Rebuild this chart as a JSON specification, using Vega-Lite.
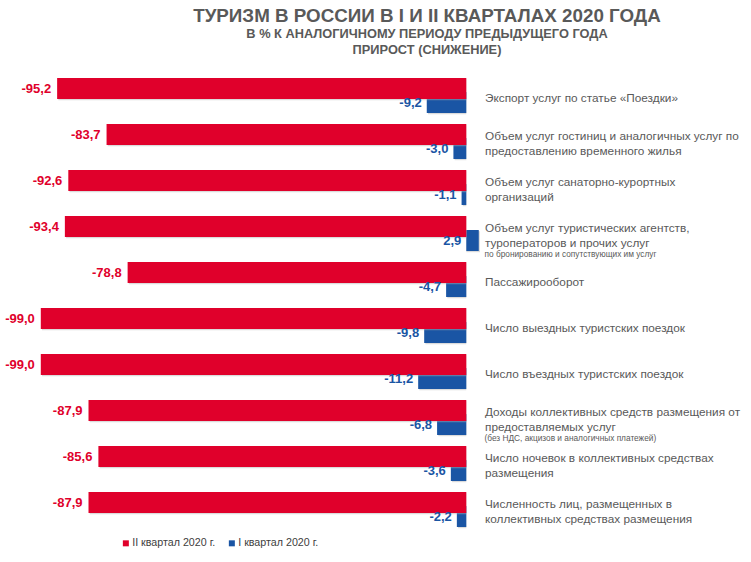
{
  "$schema": "https://vega.github.io/schema/vega-lite/v6.json",
  "width": 447,
  "height": 460,
  "autosize": "none",
  "padding": {"left": 36.5, "top": 72.5, "right": 267.5, "bottom": 29.5},
  "background": "white",
  "config": {
    "view": {"stroke": null},
    "font": "Liberation Sans",
    "locale": {"number": {"decimal": ",", "thousands": " ", "grouping": [3], "currency": ["", ""], "minus": "-"}}
  },
  "title": {
    "text": "ТУРИЗМ В РОССИИ В I И II КВАРТАЛАХ 2020 ГОДА",
    "subtitle": ["В % К  АНАЛОГИЧНОМУ ПЕРИОДУ ПРЕДЫДУЩЕГО ГОДА", "ПРИРОСТ (СНИЖЕНИЕ)"],
    "anchor": "middle",
    "dx": 167,
    "font": "Liberation Sans",
    "fontSize": 18.8,
    "fontWeight": "bold",
    "color": "#595959",
    "subtitleFont": "Liberation Sans",
    "subtitleFontSize": 12.8,
    "subtitleFontWeight": "bold",
    "subtitleColor": "#595959",
    "subtitlePadding": 2,
    "subtitleLineHeight": 16,
    "offset": 16
  },
  "data": {
    "values": [
      {"cat": "Экспорт услуг по статье «Поездки»", "series": "II квартал 2020 г.", "value": -95.2},
      {"cat": "Экспорт услуг по статье «Поездки»", "series": "I квартал 2020 г.", "value": -9.2},
      {"cat": "Объем услуг гостиниц и аналогичных услуг по\nпредоставлению временного жилья", "series": "II квартал 2020 г.", "value": -83.7},
      {"cat": "Объем услуг гостиниц и аналогичных услуг по\nпредоставлению временного жилья", "series": "I квартал 2020 г.", "value": -3.0},
      {"cat": "Объем услуг санаторно-курортных\nорганизаций", "series": "II квартал 2020 г.", "value": -92.6},
      {"cat": "Объем услуг санаторно-курортных\nорганизаций", "series": "I квартал 2020 г.", "value": -1.1},
      {"cat": "Объем услуг туристических агентств,\nтуроператоров и прочих услуг", "series": "II квартал 2020 г.", "value": -93.4, "note": "по бронированию и сопутствующих им услуг"},
      {"cat": "Объем услуг туристических агентств,\nтуроператоров и прочих услуг", "series": "I квартал 2020 г.", "value": 2.9},
      {"cat": "Пассажирооборот", "series": "II квартал 2020 г.", "value": -78.8},
      {"cat": "Пассажирооборот", "series": "I квартал 2020 г.", "value": -4.7},
      {"cat": "Число выездных туристских поездок", "series": "II квартал 2020 г.", "value": -99.0},
      {"cat": "Число выездных туристских поездок", "series": "I квартал 2020 г.", "value": -9.8},
      {"cat": "Число въездных туристских поездок", "series": "II квартал 2020 г.", "value": -99.0},
      {"cat": "Число въездных туристских поездок", "series": "I квартал 2020 г.", "value": -11.2},
      {"cat": "Доходы коллективных средств размещения от\nпредоставляемых услуг", "series": "II квартал 2020 г.", "value": -87.9, "note": "(без НДС, акцизов и аналогичных платежей)"},
      {"cat": "Доходы коллективных средств размещения от\nпредоставляемых услуг", "series": "I квартал 2020 г.", "value": -6.8},
      {"cat": "Число ночевок в коллективных средствах\nразмещения", "series": "II квартал 2020 г.", "value": -85.6},
      {"cat": "Число ночевок в коллективных средствах\nразмещения", "series": "I квартал 2020 г.", "value": -3.6},
      {"cat": "Численность лиц, размещенных  в\nколлективных средствах размещения", "series": "II квартал 2020 г.", "value": -87.9},
      {"cat": "Численность лиц, размещенных  в\nколлективных средствах размещения", "series": "I квартал 2020 г.", "value": -2.2}
    ]
  },
  "encoding": {
    "y": {
      "field": "cat",
      "type": "nominal",
      "sort": null,
      "scale": {"paddingInner": 0, "paddingOuter": 0},
      "axis": {
        "orient": "right",
        "title": null,
        "domain": false,
        "ticks": false,
        "grid": false,
        "labelAlign": "left",
        "labelPadding": 1,
        "labelFont": "Liberation Sans",
        "labelFontSize": 11.8,
        "labelColor": "#595959",
        "labelLimit": 0,
        "labelLineHeight": 15,
        "labelOffset": {"condition": {"test": "indexof(datum.value, '\\n') >= 0", "value": -6}, "value": 2},
        "labelExpr": "split(datum.value, '\\n')"
      }
    }
  },
  "layer": [
    {
      "transform": [{"filter": "datum.series == 'I квартал 2020 г.'"}],
      "mark": {"type": "bar", "height": 21, "yOffset": 8.2, "xOffset": 1.2, "color": "#b0b0b0", "opacity": 0.45},
      "encoding": {
        "x": {"field": "value", "type": "quantitative", "scale": {"domain": [-100, 4], "nice": false, "zero": false}, "axis": null},
        "x2": {"datum": 0}
      }
    },
    {
      "transform": [{"filter": "datum.series == 'I квартал 2020 г.'"}],
      "mark": {"type": "bar", "height": 21, "yOffset": 7},
      "encoding": {
        "x": {"field": "value", "type": "quantitative"},
        "x2": {"datum": 0},
        "color": {
          "field": "series",
          "type": "nominal",
          "scale": {"domain": ["II квартал 2020 г.", "I квартал 2020 г."], "range": ["#E0002B", "#1A55A4"]},
          "legend": {
            "orient": "none",
            "legendX": 84,
            "legendY": 465,
            "direction": "horizontal",
            "title": null,
            "symbolType": "square",
            "symbolSize": 36,
            "symbolStrokeWidth": 0,
            "labelFont": "Liberation Sans",
            "labelFontSize": 10.7,
            "labelColor": "#404040",
            "columnPadding": 11,
            "labelOffset": 1
          }
        }
      }
    },
    {
      "transform": [{"filter": "datum.series == 'II квартал 2020 г.'"}],
      "mark": {"type": "bar", "height": 21, "yOffset": -5.8, "xOffset": 1.2, "color": "#b0b0b0", "opacity": 0.45},
      "encoding": {
        "x": {"field": "value", "type": "quantitative"},
        "x2": {"datum": 0}
      }
    },
    {
      "transform": [{"filter": "datum.series == 'II квартал 2020 г.'"}],
      "mark": {"type": "bar", "height": 21, "yOffset": -7},
      "encoding": {
        "x": {"field": "value", "type": "quantitative"},
        "x2": {"datum": 0},
        "color": {"field": "series", "type": "nominal"}
      }
    },
    {
      "transform": [{"filter": "datum.series == 'II квартал 2020 г.'"}],
      "mark": {"type": "text", "align": "right", "dx": -6, "dy": -7, "fontWeight": "bold", "fontSize": 13, "font": "Liberation Sans Narrow, Liberation Sans", "color": "#E0002B"},
      "encoding": {
        "x": {"field": "value", "type": "quantitative"},
        "text": {"field": "value", "type": "quantitative", "format": ".1f"}
      }
    },
    {
      "transform": [{"filter": "datum.series == 'I квартал 2020 г.'"}, {"calculate": "min(datum.value, 0)", "as": "lx"}],
      "mark": {"type": "text", "align": "right", "dx": -5, "dy": 7, "fontWeight": "bold", "fontSize": 13, "font": "Liberation Sans Narrow, Liberation Sans", "color": "#1A55A4"},
      "encoding": {
        "x": {"field": "lx", "type": "quantitative"},
        "text": {"field": "value", "type": "quantitative", "format": ".1f"}
      }
    },
    {
      "transform": [{"filter": "isValid(datum.note)"}],
      "mark": {"type": "text", "align": "left", "dx": 1, "dy": 21, "fontSize": 8.3, "font": "Liberation Sans", "color": "#595959"},
      "encoding": {
        "x": {"datum": 4},
        "text": {"field": "note"}
      }
    }
  ]
}
